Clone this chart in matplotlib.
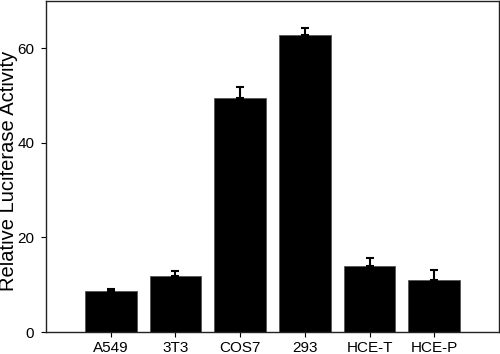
import numpy as np
import matplotlib.pyplot as plt

plt.rcParams['font.family'] = ['Liberation Sans', 'DejaVu Sans']

cells = ["A549", "3T3", "COS7", "293", "HCE-T", "HCE-P"]
activity = [8.6, 11.9, 49.4, 62.7, 13.9, 11.1]
err_up = [0.4, 1.1, 2.4, 1.6, 1.7, 2.1]

fig = plt.figure(figsize=(5, 3.54), dpi=100)
ax = fig.add_axes([0.092, 0.062, 0.906, 0.936])

x = np.arange(len(cells))
ax.bar(x, activity, width=0.8, color='black', edgecolor='#555555', linewidth=0.6)
ax.errorbar(x, activity, yerr=[np.zeros(len(err_up)), err_up], fmt='none',
            ecolor='black', elinewidth=1.5, capsize=3, capthick=1.5)

ax.set_xlim(-1, 6)
ax.set_ylim(0, 70)
ax.set_yticks([0, 20, 40, 60])
ax.set_xticks(x)
ax.set_xticklabels(cells)
ax.tick_params(axis='both', labelsize=11, length=3.5, width=0.8, direction='out')
ax.tick_params(axis='x', pad=3)
ax.tick_params(axis='y', pad=5)
ax.set_ylabel("Relative Luciferase Activity", fontsize=14.5)
ax.yaxis.set_label_coords(-0.062, 0.486)
for s in ax.spines.values():
    s.set_linewidth(1.0)
    s.set_color('#222222')

fig.savefig("out.png", dpi=100)
